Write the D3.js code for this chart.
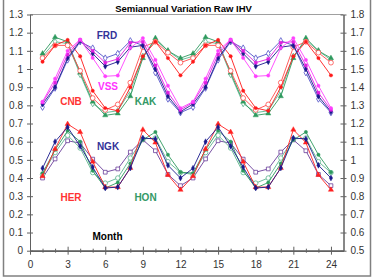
<!DOCTYPE html>
<html><head><meta charset="utf-8">
<script src="https://cdn.jsdelivr.net/npm/d3@7/dist/d3.min.js"></script>
<style>
html,body{margin:0;padding:0;background:#fff;}
svg{display:block;font-family:"Liberation Sans",Arial,sans-serif;}
</style></head><body>
<svg id="c" width="374" height="280"></svg>
<script>
// ---- data (12 monthly values, shown twice over months 1..24) ----
const months = d3.range(1, 25);
const xTicks = [0, 3, 6, 9, 12, 15, 18, 21, 24];
const yLeftTicks = [0, 0.1, 0.2, 0.3, 0.4, 0.5, 0.6, 0.7, 0.8, 0.9, 1, 1.1, 1.2, 1.3];
const yRightTicks = [0.5, 0.6, 0.7, 0.8, 0.9, 1, 1.1, 1.2, 1.3, 1.4, 1.5, 1.6, 1.7, 1.8];

const FRD_open = [0.79, 0.895, 1.05, 1.15, 1.115, 1.06, 1.085, 1.155, 1.13, 0.98, 0.835, 0.76];
const FRD_fill = [0.807, 0.90, 1.06, 1.155, 1.085, 1.015, 1.04, 1.12, 1.13, 1.00, 0.85, 0.765];
const VSS_sq   = [0.816, 0.925, 1.08, 1.16, 1.10, 1.035, 1.055, 1.145, 1.15, 1.02, 0.87, 0.775];
const VSS_fill = [0.82, 0.947, 1.10, 1.162, 1.061, 0.96, 0.964, 1.116, 1.17, 1.05, 0.908, 0.785];
const CNB_open = [1.06, 1.13, 1.13, 0.99, 0.84, 0.775, 0.805, 0.925, 1.12, 1.15, 1.09, 1.035];
const CNB_fill = [1.04, 1.13, 1.16, 1.07, 0.88, 0.785, 0.77, 0.90, 1.07, 1.15, 1.06, 0.965];
const KAK_tri  = [1.085, 1.175, 1.15, 0.98, 0.82, 0.745, 0.755, 0.85, 1.06, 1.17, 1.10, 1.06];
const KAK_open = [1.07, 1.15, 1.14, 0.97, 0.81, 0.76, 0.77, 0.88, 1.07, 1.16, 1.10, 1.05];
const NGK_fill = [0.454, 0.60, 0.68, 0.575, 0.46, 0.345, 0.35, 0.455, 0.62, 0.615, 0.47, 0.40];
const NGK_sq   = [0.40, 0.505, 0.605, 0.592, 0.504, 0.432, 0.45, 0.543, 0.61, 0.55, 0.42, 0.358];
const HER_tri  = [0.41, 0.56, 0.697, 0.653, 0.49, 0.35, 0.35, 0.455, 0.666, 0.595, 0.417, 0.335];
const HON_fill = [0.427, 0.555, 0.66, 0.60, 0.44, 0.345, 0.375, 0.48, 0.61, 0.653, 0.528, 0.432];
const HON_open = [0.42, 0.54, 0.635, 0.565, 0.43, 0.372, 0.40, 0.51, 0.615, 0.62, 0.49, 0.43];

const series = [
  {v: NGK_sq,   color: "#6a3d9a", sym: d3.symbolSquare,   size: 14, fill: false},
  {v: HON_open, color: "#5cb48e", sym: d3.symbolCircle,   size: 16, fill: false},
  {v: HON_fill, color: "#2e9a5e", sym: d3.symbolCircle,   size: 9,  fill: true},
  {v: HER_tri,  color: "#ff2020", sym: d3.symbolTriangle, size: 12, fill: true},
  {v: NGK_fill, color: "#1a1a8c", sym: d3.symbolDiamond,  size: 10, fill: true},
  {v: KAK_open, color: "#5cb48e", sym: d3.symbolDiamond,  size: 12, fill: false},
  {v: KAK_tri,  color: "#2e9a5e", sym: d3.symbolTriangle, size: 12, fill: true},
  {v: CNB_open, color: "#ff4a4a", sym: d3.symbolCircle,   size: 18, fill: false},
  {v: CNB_fill, color: "#ff1a1a", sym: d3.symbolCircle,   size: 9,  fill: true},
  {v: FRD_open, color: "#5050c8", sym: d3.symbolDiamond,  size: 12, fill: false},
  {v: FRD_fill, color: "#1a1a8c", sym: d3.symbolDiamond,  size: 10, fill: true},
  {v: VSS_sq,   color: "#e020e0", sym: d3.symbolSquare,   size: 9,  fill: true},
  {v: VSS_fill, color: "#ff40ff", sym: d3.symbolCircle,   size: 9,  fill: true}
];

const labels = [
  {t: "FRD", x: 107, y: 39, c: "#333399"},
  {t: "VSS", x: 108, y: 90, c: "#ff33ff"},
  {t: "CNB", x: 71, y: 105, c: "#ff3333"},
  {t: "KAK", x: 145.5, y: 105, c: "#339966"},
  {t: "NGK", x: 108, y: 150, c: "#333399"},
  {t: "HER", x: 71, y: 201, c: "#ff3333"},
  {t: "HON", x: 145.5, y: 201, c: "#339966"},
  {t: "Month", x: 107.5, y: 239.5, c: "#000"}
];

// ---- drawing ----
const svg = d3.select("#c");
const L = 30, R = 343.5, T = 14.5, B = 250.7;
const x = d3.scaleLinear().domain([0, 25]).range([L, R]);
const y = d3.scaleLinear().domain([0, 1.3]).range([B, T]);
const y2 = d3.scaleLinear().domain([0.5, 1.8]).range([B, T]);

// outer frame
svg.append("rect").attr("x", 3.5).attr("y", -2).attr("width", 367).attr("height", 278)
  .attr("fill", "none").attr("stroke", "#808080").attr("stroke-width", 1.5);

// plot top border
svg.append("line").attr("x1", L).attr("x2", R).attr("y1", T).attr("y2", T)
  .attr("stroke", "#a0a0a0").attr("stroke-width", 1);

const axisColor = "#606060";
function styleAxis(g) {
  g.selectAll(".domain").attr("stroke", axisColor);
  g.selectAll(".tick line").attr("stroke", axisColor);
  g.selectAll(".tick text").attr("fill", "#333").attr("font-size", 10)
    .attr("font-family", "Liberation Sans, Arial, sans-serif");
}

// x axis: major crossing ticks + minor crossing ticks
const minor = months.filter(m => m % 3 !== 0);
svg.append("g").attr("transform", `translate(0,${B})`)
  .call(d3.axisBottom(x).tickValues(minor).tickSize(2).tickFormat("").tickSizeOuter(0)).call(styleAxis);
svg.append("g").attr("transform", `translate(0,${B})`)
  .call(d3.axisTop(x).tickValues(minor).tickSize(2).tickFormat("").tickSizeOuter(0)).call(styleAxis);
svg.append("g").attr("transform", `translate(0,${B})`)
  .call(d3.axisTop(x).tickValues(xTicks).tickSize(4).tickFormat("").tickSizeOuter(0)).call(styleAxis);
svg.append("g").attr("transform", `translate(0,${B})`)
  .call(d3.axisBottom(x).tickValues(xTicks).tickSize(4).tickPadding(6).tickSizeOuter(0)).call(styleAxis);

// left axis
svg.append("g").attr("transform", `translate(${L},0)`)
  .call(d3.axisRight(y).tickValues(yLeftTicks).tickSize(3).tickFormat("").tickSizeOuter(0)).call(styleAxis);
svg.append("g").attr("transform", `translate(${L},0)`)
  .call(d3.axisLeft(y).tickValues(yLeftTicks).tickSize(3).tickPadding(4).tickFormat(d3.format("~g")).tickSizeOuter(0)).call(styleAxis);

// right axis
svg.append("g").attr("transform", `translate(${R},0)`)
  .call(d3.axisLeft(y2).tickValues(yRightTicks).tickSize(3).tickFormat("").tickSizeOuter(0)).call(styleAxis);
svg.append("g").attr("transform", `translate(${R},0)`)
  .call(d3.axisRight(y2).tickValues(yRightTicks).tickSize(3).tickPadding(4).tickFormat(d3.format("~g")).tickSizeOuter(0)).call(styleAxis);

// series
const line = d3.line().x(d => x(d.m)).y(d => y(d.v));
series.forEach(s => {
  const pts = months.map((m, i) => ({m, v: s.v[i % 12]}));
  svg.append("path").datum(pts).attr("d", line)
    .attr("fill", "none").attr("stroke", s.color).attr("stroke-width", 0.9);
  svg.append("g").selectAll("path").data(pts).join("path")
    .attr("transform", d => `translate(${x(d.m)},${y(d.v)})`)
    .attr("d", d3.symbol().type(s.sym).size(s.size))
    .attr("fill", s.fill ? s.color : "#fff")
    .attr("stroke", s.color).attr("stroke-width", s.fill ? 0.4 : 0.8);
});

// labels
svg.append("g").selectAll("text").data(labels).join("text")
  .attr("x", d => d.x).attr("y", d => d.y).attr("text-anchor", "middle")
  .attr("font-size", 10).attr("font-weight", "bold").attr("fill", d => d.c)
  .text(d => d.t);

// title
svg.append("text").attr("x", 183.5).attr("y", 11.5).attr("text-anchor", "middle")
  .attr("font-size", 9.5).attr("font-weight", "bold").attr("fill", "#000")
  .text("Semiannual Variation Raw IHV");
</script>
</body></html>
